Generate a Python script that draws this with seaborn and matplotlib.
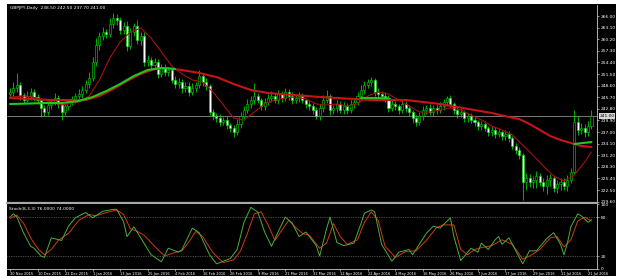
import numpy as np
import matplotlib
matplotlib.use("Agg")
import matplotlib.pyplot as plt
import matplotlib.transforms as mtransforms
from matplotlib.patches import Rectangle
import seaborn as sns

# ---------------- data (daily candles) ----------------
closes = [
    247.0, 248.0, 248.75, 246.25, 245.0, 246.0, 247.0, 245.75, 245.0, 243.0,
    242.0, 243.75, 244.5, 245.5, 244.0, 242.0, 243.5, 244.5, 245.0, 246.0,
    246.5, 247.5, 249.0, 250.5, 254.5, 258.75, 261.0, 262.0, 261.5, 264.0,
    265.5, 265.0, 262.5, 263.5, 258.5, 262.0, 263.5, 260.0, 261.0, 254.5,
    255.0, 253.75, 254.5, 251.5, 253.0, 252.0, 252.5, 250.0, 249.0, 249.5,
    248.0, 248.5, 247.0, 248.0, 248.75, 251.0, 249.5, 248.5, 242.0, 241.0,
    240.5, 239.5, 240.0, 238.75, 238.0, 237.0, 239.0, 241.0, 242.5, 244.0,
    245.0, 246.0, 245.0, 243.5, 244.5, 245.5, 246.0, 245.0, 246.5, 245.5,
    247.0, 246.0, 245.0, 245.5, 246.0, 245.0, 244.0, 243.5, 242.5, 241.0,
    243.0, 245.0, 246.0, 242.5, 243.0, 244.0, 242.5, 243.5, 242.5, 244.0,
    244.5, 246.0, 247.5, 248.75, 249.5, 250.0, 247.0, 246.5, 246.0, 245.5,
    243.0, 244.0, 243.5, 242.5, 244.0, 243.0, 242.0, 240.5, 239.5, 241.0,
    242.5, 243.0, 242.0, 243.0, 242.5, 243.5, 244.5, 245.5, 244.0, 242.5,
    241.5, 242.0, 240.5, 241.0, 240.0, 239.5, 238.5, 239.0, 238.0, 237.0,
    237.5, 236.5, 237.0, 236.0, 236.5, 235.5, 233.5, 232.5, 231.25, 224.5,
    225.5, 224.5, 225.0, 226.0, 224.5, 223.5, 225.0, 225.5, 223.0, 224.0,
    224.5, 223.5, 225.0, 227.0, 239.5, 237.5, 238.0, 237.0, 238.5, 241.0,
]
opens = [
    246.5, 247.0, 248.0, 248.75, 246.25, 245.0, 246.0, 247.0, 245.75, 245.0,
    243.0, 242.0, 243.75, 244.5, 245.5, 244.0, 242.0, 243.5, 244.5, 245.0,
    246.0, 246.5, 247.5, 249.0, 250.5, 254.5, 258.75, 261.0, 262.0, 261.5,
    264.0, 265.5, 265.0, 262.5, 263.5, 258.5, 262.0, 263.5, 260.0, 261.0,
    254.5, 255.0, 253.75, 254.5, 251.5, 253.0, 252.0, 252.5, 250.0, 249.0,
    249.5, 248.0, 248.5, 247.0, 248.0, 248.75, 251.0, 249.5, 248.5, 242.0,
    241.0, 240.5, 239.5, 240.0, 238.75, 238.0, 237.0, 239.0, 241.0, 242.5,
    244.0, 245.0, 246.0, 245.0, 243.5, 244.5, 245.5, 246.0, 245.0, 246.5,
    245.5, 247.0, 246.0, 245.0, 245.5, 246.0, 245.0, 244.0, 243.5, 242.5,
    241.0, 243.0, 245.0, 246.0, 242.5, 243.0, 244.0, 242.5, 243.5, 242.5,
    244.0, 244.5, 246.0, 247.5, 248.75, 249.5, 250.0, 247.0, 246.5, 246.0,
    245.5, 243.0, 244.0, 243.5, 242.5, 244.0, 243.0, 242.0, 240.5, 239.5,
    241.0, 242.5, 243.0, 242.0, 243.0, 242.5, 243.5, 244.5, 245.5, 244.0,
    242.5, 241.5, 242.0, 240.5, 241.0, 240.0, 239.5, 238.5, 239.0, 238.0,
    237.0, 237.5, 236.5, 237.0, 236.0, 236.5, 235.5, 233.5, 232.5, 231.25,
    224.5, 225.5, 224.5, 225.0, 226.0, 224.5, 223.5, 225.0, 225.5, 223.0,
    224.0, 224.5, 223.5, 225.0, 227.0, 239.5, 237.5, 238.0, 237.0, 238.5,
]
wick_up = [
    1.0, 1.5, 3.0, 0.8, 0.6, 1.2, 1.0, 0.8, 0.7, 0.6,
    0.8, 1.0, 0.6, 1.2, 0.8, 0.5, 0.9, 0.7, 1.0, 0.8,
    1.2, 0.9, 1.0, 1.5, 1.2, 1.8, 1.0, 1.2, 0.8, 1.5,
    1.2, 1.0, 0.8, 1.0, 1.2, 1.0, 0.8, 1.5, 0.9, 1.0,
    1.2, 0.8, 1.0, 0.7, 1.0, 0.9, 0.8, 0.6, 0.9, 1.0,
    0.8, 1.0, 0.9, 1.2, 0.8, 1.5, 0.7, 0.9, 0.6, 0.8,
    0.7, 1.0, 0.8, 0.9, 0.6, 0.8, 1.2, 1.0, 0.9, 1.2,
    1.0, 3.25, 0.8, 0.6, 1.0, 0.9, 1.2, 0.8, 1.0, 0.7,
    1.0, 0.8, 0.9, 0.7, 1.0, 0.8, 0.6, 0.9, 0.7, 0.8,
    1.0, 1.2, 1.5, 0.6, 0.8, 1.0, 0.7, 0.9, 0.8, 1.0,
    0.8, 1.0, 1.2, 1.0, 0.8, 0.75, 0.6, 0.9, 0.8, 1.0,
    0.7, 0.9, 0.8, 0.6, 1.0, 0.8, 0.7, 0.6, 0.8, 1.0,
    0.9, 0.8, 1.0, 0.7, 0.9, 1.0, 0.8, 0.5, 0.7, 0.6,
    0.8, 0.9, 0.6, 0.8, 0.7, 0.9, 0.6, 0.8, 0.7, 0.6,
    0.9, 0.7, 0.8, 0.6, 0.9, 0.7, 0.6, 0.8, 0.7, 0.5,
    1.2, 0.9, 1.0, 1.2, 0.8, 1.0, 1.2, 0.9, 0.8, 1.0,
    0.9, 1.0, 1.2, 1.0, 3.0, 1.5, 1.2, 1.0, 1.2, 1.5,
]
wick_dn = [
    0.8, 1.0, 0.9, 1.2, 0.8, 0.6, 1.0, 0.9, 1.0, 2.25,
    1.0, 0.8, 0.9, 0.7, 1.0, 2.0, 0.8, 0.9, 0.7, 0.8,
    0.7, 0.9, 0.8, 1.0, 0.8, 1.0, 1.2, 0.9, 1.0, 0.8,
    1.0, 1.2, 0.9, 1.0, 1.2, 0.8, 1.0, 0.9, 1.2, 1.0,
    0.9, 1.0, 0.8, 1.0, 0.7, 0.9, 1.0, 0.8, 1.0, 0.9,
    1.2, 0.9, 1.0, 0.8, 1.0, 0.7, 0.9, 1.0, 0.8, 1.0,
    0.9, 1.0, 0.8, 1.0, 0.9, 1.25, 0.8, 1.0, 0.9, 0.8,
    0.9, 1.0, 0.8, 1.0, 0.9, 0.7, 1.0, 0.8, 0.9, 1.0,
    0.8, 1.0, 0.9, 0.7, 1.0, 0.8, 1.0, 0.9, 1.0, 0.8,
    0.9, 1.0, 0.8, 1.2, 0.9, 1.0, 0.8, 1.0, 0.9, 0.8,
    1.0, 0.8, 0.9, 1.0, 0.8, 0.9, 1.0, 0.8, 0.9, 1.0,
    0.9, 0.8, 1.0, 0.9, 0.8, 1.0, 0.9, 1.2, 1.0, 0.8,
    0.9, 1.0, 0.8, 0.9, 1.0, 0.8, 0.9, 1.0, 0.8, 0.9,
    1.0, 0.8, 0.9, 1.0, 0.8, 1.0, 0.9, 1.0, 0.8, 1.0,
    0.9, 1.0, 0.8, 1.0, 0.9, 1.0, 0.8, 1.0, 0.9, 4.5,
    2.0, 1.2, 1.5, 2.0, 1.0, 1.2, 2.0, 1.5, 1.0, 1.2,
    1.5, 1.0, 1.2, 0.75, 0.5, 1.2, 1.0, 1.2, 1.0, 0.8,
]

# fast moving average (thin red), read at candle indices
ma_fast_idx = [0, 5, 10, 15, 20, 23, 26, 29, 32, 35, 38, 41, 44, 47, 50, 53, 56, 59,
               62, 65, 68, 71, 74, 77, 80, 83, 86, 89, 92, 95, 98, 101, 104, 107, 110,
               113, 116, 119, 122, 125, 128, 131, 134, 137, 140, 143, 146, 149, 152,
               155, 158, 161, 164, 167, 169]
ma_fast_val = [245.75, 246.0, 245.0, 243.75, 244.5, 246.0, 250.0, 255.5, 259.5, 262.0,
               263.0, 260.5, 257.0, 253.5, 251.5, 250.0, 249.5, 247.0, 243.75, 240.5,
               240.0, 242.0, 244.0, 245.0, 245.5, 245.75, 245.25, 244.0, 243.75, 244.0,
               243.5, 244.0, 246.0, 247.0, 246.5, 245.0, 243.5, 242.0, 242.0, 242.5,
               243.0, 242.5, 241.25, 240.0, 238.5, 237.5, 236.25, 233.75, 231.25, 228.5,
               226.0, 224.75, 226.25, 229.5, 232.0]

# slow moving average (thick red)
ma_slow_idx = [0, 6, 12, 18, 22, 26, 30, 34, 38, 42, 45, 50, 55, 60, 65, 70, 75, 80, 85,
               90, 95, 100, 105, 110, 115, 120, 125, 130, 135, 140, 145, 148, 151, 154,
               157, 160, 163, 166, 169]
ma_slow_val = [245.5, 245.25, 245.0, 245.0, 245.0, 246.0, 247.75, 249.75, 251.5, 252.75,
               253.0, 252.5, 251.75, 250.75, 249.0, 247.5, 246.75, 246.4, 246.1, 245.75,
               245.5, 245.25, 245.0, 245.0, 245.0, 244.5, 244.0, 243.25, 242.5, 241.75,
               240.75, 240.25, 239.0, 237.5, 236.0, 235.0, 234.25, 233.5, 233.25]

# green average line (visible segments)
green_idx = [0, 5, 10, 15, 20, 24, 28, 32, 36, 40, 44, 48, 102, 106, 110, 164, 169]
green_val = [244.0, 244.1, 244.25, 244.25, 244.75, 245.75, 247.25, 249.0, 251.0, 252.5,
             253.0, 252.75, 245.5, 245.5, 245.4, 234.0, 234.5]
green_seg = [0, 0, 0, 0, 0, 0, 0, 0, 0, 0, 0, 0, 1, 1, 1, 2, 2]

# stochastic oscillator
stoch_k_idx = [0, 1, 2, 4, 6, 7, 9, 10, 12, 15, 17, 19, 22, 24, 27, 30, 31, 33, 34, 36,
               38, 41, 44, 46, 49, 50, 53, 55, 58, 60, 61, 64, 66, 68, 70, 72, 74, 76,
               78, 80, 82, 84, 86, 89, 90, 92, 93, 94, 95, 97, 100, 102, 103, 105, 106,
               108, 111, 113, 116, 117, 121, 123, 125, 128, 129, 131, 134, 136, 137,
               139, 141, 142, 143, 145, 148, 149, 151, 153, 156, 158, 160, 161, 162,
               163, 165, 166, 168, 169]
stoch_k_val = [80, 85, 80, 55, 35, 32, 20, 18, 48, 44, 66, 79, 87, 79, 89, 92, 92, 73,
               50, 65, 48, 22, 11, 32, 26, 30, 63, 56, 22, 8, 10, 16, 30, 72, 95, 88, 57,
               35, 58, 80, 71, 50, 57, 36, 20, 62, 80, 61, 41, 36, 40, 70, 86, 91, 88,
               38, 12, 26, 30, 22, 55, 66, 63, 79, 50, 13, 32, 26, 40, 30, 45, 50, 38,
               48, 18, 8, 28, 28, 47, 56, 38, 22, 40, 65, 85, 82, 72, 76]
stoch_d_idx = [0, 2, 4, 6, 8, 10, 12, 14, 17, 20, 23, 25, 28, 31, 33, 35, 37, 39, 42, 45,
               47, 50, 52, 54, 56, 59, 62, 65, 67, 69, 71, 73, 75, 77, 79, 81, 83, 85,
               87, 90, 92, 94, 96, 98, 101, 103, 105, 107, 109, 112, 115, 118, 121, 124,
               126, 129, 131, 133, 135, 137, 140, 143, 146, 149, 151, 154, 157, 159,
               161, 163, 165, 167, 169]
stoch_d_val = [78, 83, 70, 48, 32, 22, 30, 44, 55, 75, 84, 82, 87, 91, 84, 62, 58, 52,
               35, 20, 24, 28, 42, 58, 50, 25, 10, 14, 28, 55, 85, 88, 68, 44, 60, 75,
               64, 55, 52, 32, 40, 70, 50, 38, 45, 72, 88, 75, 35, 18, 27, 28, 44, 64,
               68, 68, 30, 22, 30, 33, 36, 45, 38, 15, 20, 30, 48, 50, 34, 45, 74, 80, 74]

price_ticks = [266.0, 263.1, 260.2, 257.3, 254.4, 251.5, 248.6, 245.7, 242.8, 239.9,
               237.0, 234.1, 231.2, 228.3, 225.4, 222.5, 219.6]
stoch_ticks = [100, 80, 20, 0]
stoch_levels = [80, 20]
date_pos = [0, 8, 16, 24, 32, 40, 48, 56, 64, 72, 80, 88, 96, 104, 112, 120, 128,
            136, 144, 152, 160, 168]
date_labels = ["30 Nov 2015", "10 Dec 2015", "22 Dec 2015", "1 Jan 2016", "13 Jan 2016",
               "25 Jan 2016", "4 Feb 2016", "16 Feb 2016", "26 Feb 2016", "9 Mar 2016",
               "21 Mar 2016", "31 Mar 2016", "12 Apr 2016", "22 Apr 2016", "4 May 2016",
               "16 May 2016", "26 May 2016", "7 Jun 2016", "17 Jun 2016", "29 Jun 2016",
               "11 Jul 2016", "21 Jul 2016"]
symbol_text = "GBPJPY,Daily  238.50 242.50 237.70 241.00"
stoch_text = "Stoch(8,3,3) 76.0000 74.0000"

# ---------------- style ----------------
sns.set_style("dark")
plt.rcParams['font.family'] = ['DejaVu Sans']

W, H = 620, 279
fig = plt.figure(figsize=(W / 100, H / 100), dpi=100, facecolor='white')
bg = Rectangle((7 / W, 1 - 276 / H), 609 / W, 272 / H,
               transform=fig.transFigure, facecolor='black',
               edgecolor='none', zorder=-10)
fig.add_artist(bg)
ax = fig.add_axes([7 / W, 1 - 203 / H, 590 / W, 198 / H])
ax2 = fig.add_axes([7 / W, 1 - 269 / H, 590 / W, 65 / H], sharex=ax)
ax.set_zorder(2)
ax2.set_zorder(2)

CANDLE = '#00e000'
FS = 3.2
FS_DATE = 2.6

# candles
o = np.array(opens)
c = np.array(closes)
n = len(c)
x = np.arange(n)
hi = np.maximum(o, c) + np.array(wick_up)
lo = np.minimum(o, c) - np.array(wick_dn)
ax.vlines(x, lo, hi, color=CANDLE, lw=0.55, zorder=2)
bull = c >= o
bot = np.minimum(o, c)
h = np.maximum(np.abs(c - o), 0.18)
ax.bar(x[bull], h[bull], bottom=bot[bull], width=0.6, color='black',
       edgecolor=CANDLE, linewidth=0.4, zorder=3)
ax.bar(x[~bull], h[~bull], bottom=bot[~bull], width=0.6, color='white',
       edgecolor=CANDLE, linewidth=0.4, zorder=3)

# moving averages
sns.lineplot(x=ma_slow_idx, y=ma_slow_val, ax=ax, color='#c81414', lw=1.5, zorder=4)
sns.lineplot(x=ma_fast_idx, y=ma_fast_val, ax=ax, color='#a81010', lw=0.8, zorder=4)
gi = np.array(green_idx)
gv = np.array(green_val)
gs = np.array(green_seg)
for s in np.unique(gs):
    m = gs == s
    sns.lineplot(x=gi[m], y=gv[m], ax=ax, color='#22c422', lw=1.5, zorder=5)

# bid line + label
last = closes[-1]
ax.axhline(last, color='#8c8c8c', lw=0.6, zorder=1)
trans = mtransforms.blended_transform_factory(ax.transAxes, ax.transData)
ax.text(1.004, last, f"{last:.2f}", transform=trans, fontsize=FS, color='black',
        va='center', ha='left', zorder=10, clip_on=False,
        bbox=dict(boxstyle='square,pad=0.15', fc='#d8d8d8', ec='none'))

# stochastic
for lv in stoch_levels:
    ax2.axhline(lv, color='#8a8a8a', lw=0.5, ls=(0, (1, 1.5)), zorder=1)
sns.lineplot(x=stoch_d_idx, y=stoch_d_val, ax=ax2, color='#d23a14', lw=0.7, zorder=3)
sns.lineplot(x=stoch_k_idx, y=stoch_k_val, ax=ax2, color='#4cae3c', lw=0.7, zorder=4)

# axes styling
for a in (ax, ax2):
    a.set_facecolor('black')
    a.grid(False)
    a.set_xlabel('')
    a.set_ylabel('')
    a.spines['left'].set_visible(False)
    a.spines['top'].set_visible(False)
    a.spines['right'].set_visible(True)
    a.spines['right'].set_color('#c8c8c8')
    a.spines['right'].set_linewidth(0.6)
    a.yaxis.tick_right()
    a.tick_params(axis='y', labelsize=FS, colors='white', length=1.5, width=0.4,
                  pad=1.2, right=True, left=False)

ax.spines['bottom'].set_visible(True)
ax.spines['bottom'].set_color('#a8a8a8')
ax.spines['bottom'].set_linewidth(1.6)
ax2.spines['bottom'].set_visible(True)
ax2.spines['bottom'].set_color('#c8c8c8')
ax2.spines['bottom'].set_linewidth(0.6)

ax.set_xlim(-0.87, 170.6)
ax.set_ylim(219.25, 268.75)
ax.set_yticks(price_ticks)
ax.set_yticklabels([f"{v:.2f}" for v in price_ticks])
ax.tick_params(axis='x', bottom=False, labelbottom=False)

ax2.set_ylim(0, 100.2)
ax2.set_yticks(stoch_ticks)
ax2.set_yticklabels([str(v) for v in stoch_ticks])
ax2.set_xticks(date_pos)
ax2.set_xticklabels(date_labels, ha='left')
ax2.tick_params(axis='x', labelsize=FS_DATE, colors='white', length=1.5, width=0.4,
                pad=0.5, bottom=True)

# captions
fig.text(10 / W, 1 - 8.5 / H, symbol_text, fontsize=FS, color='white',
         va='center', ha='left', zorder=5)
ax2.text(0.004, 0.93, stoch_text, transform=ax2.transAxes, fontsize=FS,
         color='white', va='center', ha='left')

fig.savefig('out.png', dpi=100, facecolor='white')
